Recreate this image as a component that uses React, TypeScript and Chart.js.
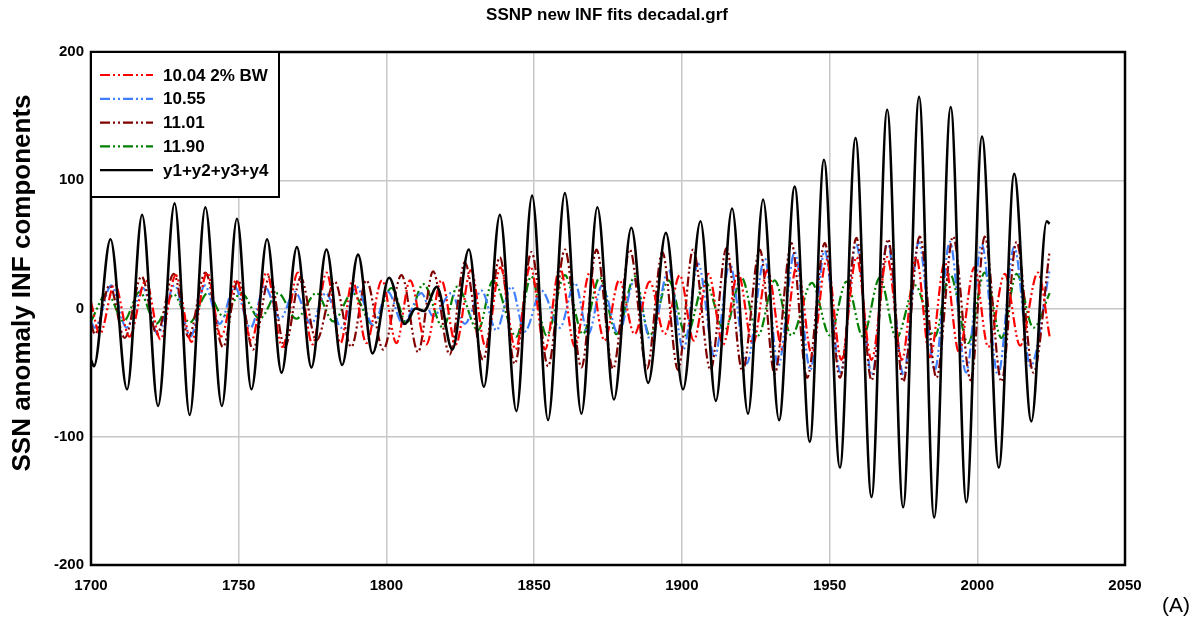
import React, { useEffect, useRef } from "react";
import { Chart, registerables } from "chart.js";

Chart.register(...registerables);

// ---- data (extrema) ----
const sumYears = [1700, 1701, 1706.6, 1712.2, 1717.3, 1722.7, 1728.3, 1733.4, 1738.7, 1744.3, 1749.4, 1754.3, 1759.6, 1764.5, 1769.7, 1774.6, 1779.7, 1785.0, 1790.4, 1795.3, 1800.9, 1806.2, 1809.9, 1812.7, 1817.1, 1822.3, 1827.9, 1833.0, 1838.4, 1844.0, 1849.3, 1854.7, 1860.4, 1866.0, 1871.4, 1877.0, 1882.9, 1888.6, 1894.6, 1900.4, 1906.3, 1911.5, 1917.0, 1922.4, 1927.5, 1932.9, 1938.2, 1943.3, 1948.1, 1953.5, 1958.8, 1964.2, 1969.5, 1974.9, 1980.3, 1985.4, 1991.0, 1996.3, 2001.6, 2007.3, 2012.5, 2018.3, 2023.5, 2024.5];
const sumValues = [-40, -45, 54, -63, 73, -76, 82, -83, 79, -76, 70, -63, 54, -50, 48, -46, 46, -44, 42, -35, 24, -12, 0, -2, 17, -32, 46, -61, 73, -80, 88, -87, 90, -82, 79, -71, 63, -58, 59, -63, 68, -72, 78, -82, 85, -87, 95, -104, 116, -124, 133, -147, 155, -155, 165, -163, 157, -151, 134, -124, 105, -88, 68, 66];

const redYears = [1700, 1703, 1708, 1713, 1718.5, 1723.5, 1728.7, 1734, 1739.3, 1744, 1749.2, 1754.3, 1759.4, 1764.8, 1770, 1775, 1779.7, 1784.5, 1788.5, 1793.2, 1798.5, 1803.4, 1808, 1813.5, 1818.6, 1823.5, 1828.6, 1833.6, 1838.6, 1843.7, 1848.7, 1853.7, 1858.7, 1863.8, 1868.8, 1873.8, 1878.8, 1884, 1889.1, 1894.2, 1899.3, 1904, 1909, 1914, 1919, 1924, 1929, 1934, 1939, 1944, 1949, 1954, 1959.1, 1964.2, 1969.5, 1974.5, 1979.3, 1984, 1989, 1993.8, 1999, 2003.7, 2009.3, 2014.5, 2020.5, 2024.5];
const redValues = [5, -20, 19, -22, 22, -24, 26, -26, 28, -22, 22, -25, 28, -30, 28, -28, 28, -27, 22, -27, 22, -27, 22, -28, 22, -28, 30, -30, 32, -32, 33, -32, 32, -30, 28, -25, 22, -20, 21, -20, 26, -25, 27, -28, 28, -28, 30, -32, 34, -36, 38, -40, 40, -40, 40, -40, 40, -38, 36, -34, 32, -30, 27, -29, 28, -22];

const blueYears = [1700, 1701.3, 1706.9, 1712, 1717.6, 1722.6, 1728.3, 1733.7, 1738.5, 1743.6, 1748.6, 1754.0, 1758.8, 1764, 1769, 1774.5, 1779.5, 1784.8, 1789.8, 1795.5, 1800.5, 1805.6, 1811.8, 1815.8, 1822, 1826.5, 1832.2, 1837.2, 1842.3, 1846.8, 1852.5, 1858.7, 1863.8, 1868.3, 1873, 1878.5, 1884, 1889.5, 1895.5, 1900.5, 1905.5, 1911.1, 1916.2, 1921.9, 1928.1, 1932.6, 1938.2, 1943.5, 1948.3, 1953.7, 1959, 1964.3, 1969.6, 1975, 1980.2, 1985.6, 1990.7, 1996.2, 2001.5, 2007, 2012.5, 2018, 2024.5];
const blueValues = [-10, -15, 18, -15, 16, -20, 18, -22, 18, -12, 17, -15, 17, -8, 13, -12, 12, -15, 17, -13, 13, -12, 12, -6, 12, -12, 14, -17, 17, -18, 14, -15, 20, -20, 18, -20, 22, -25, 30, -32, 35, -38, 35, -43, 39, -45, 44, -48, 45, -50, 50, -52, 52, -52, 52, -48, 52, -50, 50, -52, 48, -45, 30];

const darkRedYears = [1700, 1701.3, 1706.3, 1711.4, 1717.1, 1722.3, 1728.0, 1733.0, 1738.7, 1744.7, 1749.8, 1754.8, 1760.5, 1765.6, 1771, 1776.3, 1782.5, 1788.1, 1793.2, 1798.9, 1805.1, 1810.7, 1815.8, 1821.4, 1826.5, 1832.7, 1838.4, 1843.4, 1849.1, 1854.7, 1860.4, 1866.0, 1871.1, 1876.7, 1882.4, 1888.2, 1893.4, 1898.7, 1903.8, 1909.7, 1915.1, 1920.5, 1926.4, 1931.4, 1937.1, 1942.4, 1948.4, 1953.5, 1959.1, 1964.2, 1969.8, 1974.9, 1980.5, 1986.2, 1991.8, 1997.8, 2002.5, 2008.2, 2013.3, 2019, 2024.5];
const darkRedValues = [-12, -20, 18, -23, 25, -20, 27, -22, 28, -30, 22, -32, 25, -30, 24, -25, 21, -30, 22, -32, 26, -34, 29, -36, 36, -40, 40, -43, 44, -45, 46, -46, 46, -47, 46, -47, 44, -48, 46, -48, 47, -49, 46, -51, 51, -54, 51, -54, 55, -56, 54, -57, 56, -54, 56, -56, 56, -57, 52, -50, 45];

const greenYears = [1700, 1705.5, 1711, 1716.5, 1722, 1728, 1733.4, 1739.5, 1744.7, 1750.9, 1757.1, 1763.3, 1769.5, 1776.3, 1782, 1788.5, 1795.5, 1801.7, 1806.8, 1812.5, 1819.2, 1824, 1831, 1836.1, 1844, 1849, 1854.2, 1860.4, 1866.5, 1872.2, 1877.9, 1884.1, 1889.1, 1895.5, 1901.5, 1907.8, 1914.5, 1920.2, 1925.8, 1931.4, 1937.1, 1944, 1950.1, 1955.7, 1961.3, 1967, 1972.6, 1979, 1985.6, 1990.7, 1996.9, 2002.5, 2008.2, 2013.3, 2019, 2024.5];
const greenValues = [-10, 12, -10, 13, -12, 11, -11, 12, -6, 12, -8, 12, -8, 12, -10, 12, -13, 16, -11, 19, -15, 17, -17, 22, -22, 25, -21, 26, -20, 24, -20, 25, -21, 22, -21, 21, -17, 24, -21, 22, -21, 20, -21, 21, -22, 24, -23, 18, -22, 27, -27, 28, -23, 27, -15, 12];

const seriesLabels = ["10.04 2% BW", "10.55", "11.01", "11.90", "y1+y2+y3+y4"];
const xTickStep = 50;
const yTickStep = 100;

const FONT = '"Liberation Sans", Arial, Helvetica, sans-serif';
const DASH = [10, 3, 2, 3, 2, 3];

const pairs = (xs: number[], ys: number[]) => xs.map((x, i) => ({ x, y: ys[i] }));

const legendItems = [
  { label: seriesLabels[0], color: "#ff0000", dash: DASH },
  { label: seriesLabels[1], color: "#3f7fff", dash: DASH },
  { label: seriesLabels[2], color: "#800000", dash: DASH },
  { label: seriesLabels[3], color: "#008000", dash: DASH },
  { label: seriesLabels[4], color: "#000000", dash: [] as number[] },
];

const decorPlugin = {
  id: "decor",
  afterDraw(chart: any) {
    const { ctx, chartArea: a } = chart;
    ctx.save();
    ctx.strokeStyle = "#000";
    ctx.lineWidth = 2.5;
    ctx.setLineDash([]);
    ctx.strokeRect(a.left, a.top, a.right - a.left, a.bottom - a.top);

    const bx = a.left, by = a.top, bw = 188, bh = 145;
    ctx.fillStyle = "#fff";
    ctx.fillRect(bx, by, bw, bh);
    ctx.lineWidth = 2;
    ctx.strokeRect(bx, by, bw, bh);
    ctx.font = `bold 17px ${FONT}`;
    ctx.textBaseline = "middle";
    ctx.textAlign = "left";
    legendItems.forEach((it, i) => {
      const y = by + 23 + i * 23.8;
      ctx.strokeStyle = it.color;
      ctx.lineWidth = 2.2;
      ctx.setLineDash(it.dash);
      ctx.beginPath();
      ctx.moveTo(bx + 9, y);
      ctx.lineTo(bx + 62, y);
      ctx.stroke();
      ctx.setLineDash([]);
      ctx.fillStyle = "#000";
      ctx.fillText(it.label, bx + 72, y + 1);
    });

    ctx.fillStyle = "#000";
    ctx.textAlign = "center";
    ctx.font = `bold 17px ${FONT}`;
    ctx.fillText("SSNP new INF fits decadal.grf", 607, 15);

    ctx.save();
    ctx.translate(23, 283);
    ctx.rotate(-Math.PI / 2);
    ctx.font = `bold 26px ${FONT}`;
    ctx.fillText("SSN anomaly INF components", 0, 0);
    ctx.restore();

    ctx.font = `21px ${FONT}`;
    ctx.fillText("(A)", 1176, 606);
    ctx.restore();
  },
};

export default function App() {
  const ref = useRef<HTMLCanvasElement | null>(null);

  useEffect(() => {
    document.body.style.margin = "0";
    const canvas = ref.current;
    if (!canvas) return;
    const common = {
      pointRadius: 0,
      borderWidth: 2.2,
      fill: false,
      cubicInterpolationMode: "monotone" as const,
    };
    const chart = new Chart(canvas, {
      type: "line",
      data: {
        datasets: [
          { ...common, label: seriesLabels[4], data: pairs(sumYears, sumValues), borderColor: "#000000", borderWidth: 2.6, order: 0 },
          { ...common, label: seriesLabels[0], data: pairs(redYears, redValues), borderColor: "#ff0000", borderDash: DASH, order: 1 },
          { ...common, label: seriesLabels[2], data: pairs(darkRedYears, darkRedValues), borderColor: "#800000", borderDash: DASH, order: 2 },
          { ...common, label: seriesLabels[1], data: pairs(blueYears, blueValues), borderColor: "#3f7fff", borderDash: DASH, order: 3 },
          { ...common, label: seriesLabels[3], data: pairs(greenYears, greenValues), borderColor: "#008000", borderDash: DASH, order: 4 },
        ],
      },
      options: {
        responsive: false,
        animation: false,
        events: [],
        layout: { padding: { top: 52, right: 79, left: 0, bottom: 0 } },
        plugins: {
          legend: { display: false },
          title: { display: false },
          tooltip: { enabled: false },
        },
        scales: {
          x: {
            type: "linear",
            min: 1700,
            max: 2050,
            afterFit: (s: any) => { s.height = 61; },
            ticks: {
              stepSize: xTickStep,
              padding: 12,
              color: "#000",
              font: { size: 15, weight: "bold", family: FONT },
              callback: (v: any) => String(v),
              maxRotation: 0,
            },
            grid: { color: "#c8c8c8", lineWidth: 1.5, drawTicks: false },
            border: { display: false },
          },
          y: {
            type: "linear",
            min: -200,
            max: 200,
            afterFit: (s: any) => { s.width = 91; },
            ticks: {
              stepSize: yTickStep,
              padding: 7,
              color: "#000",
              font: { size: 15, weight: "bold", family: FONT },
              callback: (v: any) => String(v),
            },
            grid: { color: "#c8c8c8", lineWidth: 1.5, drawTicks: false },
            border: { display: false },
          },
        },
      },
      plugins: [decorPlugin],
    });
    return () => chart.destroy();
  }, []);

  return (
    <div style={{ position: "fixed", left: 0, top: 0, width: 1204, height: 626, background: "#fff" }}>
      <canvas ref={ref} width={1204} height={626} style={{ display: "block" }} />
    </div>
  );
}
